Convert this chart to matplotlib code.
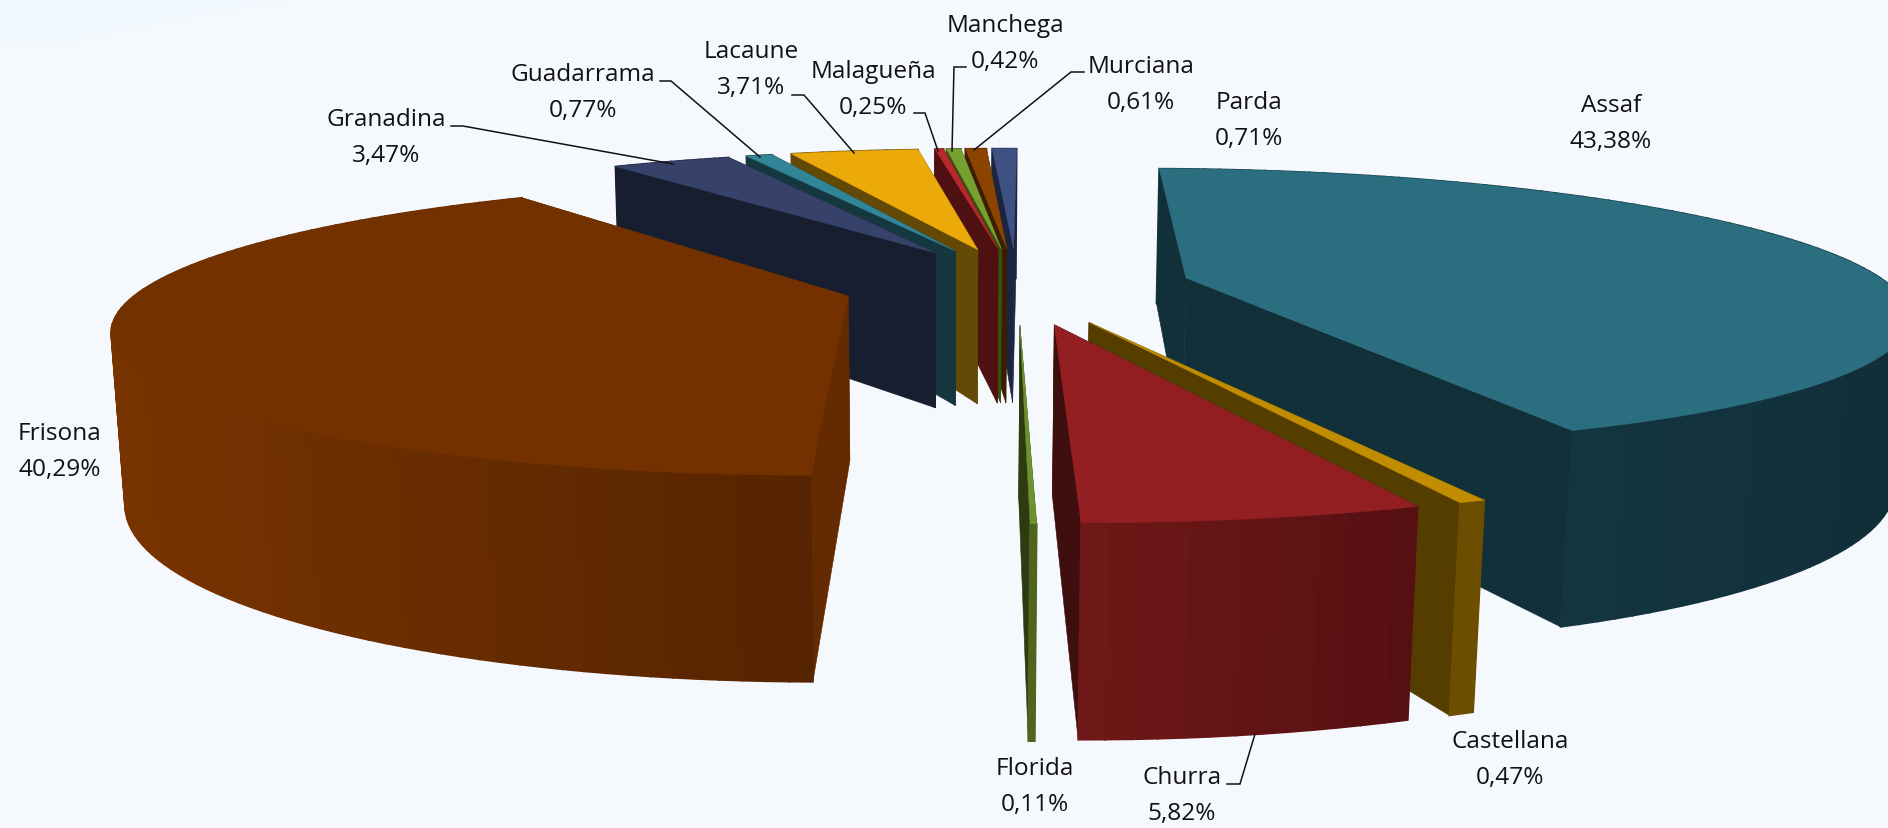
import numpy as np
import matplotlib
matplotlib.use("Agg")
import matplotlib.pyplot as plt
from matplotlib.patches import Polygon

# ---- data
breeds = ["Assaf", "Castellana", "Churra", "Florida", "Frisona", "Granadina",
          "Guadarrama", "Lacaune", "Malagueña", "Manchega", "Murciana", "Parda"]
shares = [43.38, 0.47, 5.82, 0.11, 40.29, 3.47, 0.77, 3.71, 0.25, 0.42, 0.61, 0.71]
share_labels = ["43,38%", "0,47%", "5,82%", "0,11%", "40,29%", "3,47%",
                "0,77%", "3,71%", "0,25%", "0,42%", "0,61%", "0,71%"]
top_colors = ["#2A6E80", "#C08C00", "#941F22", "#6F9230", "#733100", "#37426B",
              "#318597", "#ECAA0A", "#B8282C", "#78A030", "#8A4400", "#3F5082"]
side_colors = ["#12303A", "#553D00", "#3F0E0F", "#2E3B10", "#642B00", "#161E30",
               "#15373F", "#634806", "#4F1012", "#3A4F14", "#3D1C00", "#1B2540"]
arc_light = ["#173F4B", "#6F5000", "#6F1817", "#4F641C", "#783400", "#1A2338",
             "#18404A", "#6F5108", "#5A1214", "#44591A", "#482200", "#222C4C"]
arc_dark = ["#102E38", "#6A4C00", "#561012", "#4F641C", "#552400", "#161E30",
            "#15373F", "#634806", "#4F1012", "#3A4F14", "#3D1C00", "#1B2540"]

# label centre (x, first-line y), in figure pixels
label_pos = {"Assaf": (1611, 106), "Parda": (1249, 103), "Murciana": (1141, 67),
             "Manchega": (1005, 26), "Malagueña": (873, 72), "Lacaune": (751, 52),
             "Guadarrama": (583, 75), "Granadina": (386, 120), "Frisona": (60, 434),
             "Florida": (1035, 769), "Churra": (1182, 778), "Castellana": (1510, 742)}
leaders = [[(660, 82), (671, 82), (760, 158)],
           [(792, 96), (804, 96), (854, 154)],
           [(914, 114), (925, 114), (938, 152)],
           [(966, 68), (954, 68), (952, 152)],
           [(1084, 73), (1071, 73), (974, 151)],
           [(451, 127), (463, 127), (673, 165)],
           [(1227, 785), (1240, 785), (1255, 735)]]

# ---- perspective camera
W, H = 1888, 829
F, CX, CY = 2807.0, 946.0, 415.0
TILT = np.arctan(0.272)
PIE_X, PIE_Y = 0.116, 4.48
RADIUS, STRETCH_X, THICK, EXPLODE, START = 1.015, 1.13, 0.276, 0.285, 1.5


def project(x, y, z):
    depth = y * np.cos(TILT) + z * np.sin(TILT)
    return (CX + F * x / depth,
            CY + F * (z * np.cos(TILT) - y * np.sin(TILT)) / depth,
            depth)


def mix(c1, c2, t):
    a = np.array(matplotlib.colors.to_rgb(c1))
    b = np.array(matplotlib.colors.to_rgb(c2))
    return tuple(a + (b - a) * t)


fig = plt.figure(figsize=(W / 100, H / 100), dpi=100, facecolor="#F5F9FE")
ax = fig.add_axes([0, 0, 1, 1])
ax.set_xlim(0, W)
ax.set_ylim(H, 0)
ax.axis("off")
ax.add_patch(Polygon([(0, 0), (300, 0), (180, 20), (60, 46), (0, 44)],
                     closed=True, fc="#F0F8FE", ec="none", zorder=0))

values = np.array(shares)
spans = values / values.sum() * 360.0
starts = START + np.concatenate([[0], np.cumsum(spans)[:-1]])

slices = []
for i in range(len(values)):
    a0 = np.radians(starts[i])
    a1 = np.radians(starts[i] + spans[i])
    mid = (a0 + a1) / 2
    ox = PIE_X + EXPLODE * np.sin(mid)
    oy = PIE_Y + EXPLODE * np.cos(mid)
    slices.append((oy + 0.5 * np.cos(mid), i, a0, a1, ox, oy))

z = 3
for _, i, a0, a1, ox, oy in sorted(slices, key=lambda s: -s[0]):
    n = max(2, int(np.degrees(a1 - a0) / 1.5) + 1)
    ang = np.linspace(a0, a1, n)
    ax_ = ox + RADIUS * STRETCH_X * np.sin(ang)
    ay_ = oy + RADIUS * np.cos(ang)
    ut, vt, dt = project(ax_, ay_, 1.0)
    ub, vb, _ = project(ax_, ay_, 1.0 + THICK)
    u0, v0, d0 = project(np.array([ox]), np.array([oy]), 1.0)
    u1, v1, _ = project(np.array([ox]), np.array([oy]), 1.0 + THICK)

    faces = []
    # radial walls
    for k in (0, -1):
        quad = [(u0[0], v0[0]), (ut[k], vt[k]), (ub[k], vb[k]), (u1[0], v1[0])]
        faces.append(((d0[0] + dt[k]) / 2, quad, side_colors[i], 0.4))
    # curved wall: shade runs light to dark from the slice's left to its right
    umin, umax = ut.min(), ut.max()
    for k in range(n - 1):
        quad = [(ut[k], vt[k]), (ut[k + 1], vt[k + 1]), (ub[k + 1], vb[k + 1]), (ub[k], vb[k])]
        t = ((ut[k] + ut[k + 1]) / 2 - umin) / max(umax - umin, 1)
        faces.append(((dt[k] + dt[k + 1]) / 2, quad, mix(arc_light[i], arc_dark[i], t), 1.2))
    for _, quad, col, lw in sorted(faces, key=lambda f: -f[0]):
        ax.add_patch(Polygon(quad, closed=True, fc=col, ec=col, lw=lw, zorder=z))
        z += 1
    top = [(u0[0], v0[0])] + list(zip(ut, vt))
    ax.add_patch(Polygon(top, closed=True, fc=top_colors[i], ec=top_colors[i], lw=0.3, zorder=z))
    z += 1

for pts in leaders:
    xs, ys = zip(*pts)
    ax.plot(xs, ys, color="#111111", lw=1.1, zorder=z, solid_joinstyle="miter")
z += 1
for name, pct in zip(breeds, share_labels):
    x, y = label_pos[name]
    for dy, s in ((0, name), (36, pct)):
        ax.text(x, y + dy, s, ha="center", va="center", fontsize=17.6,
                family="Open Sans", color="#111111", zorder=z)

fig.savefig("out.png", dpi=100, facecolor=fig.get_facecolor())
